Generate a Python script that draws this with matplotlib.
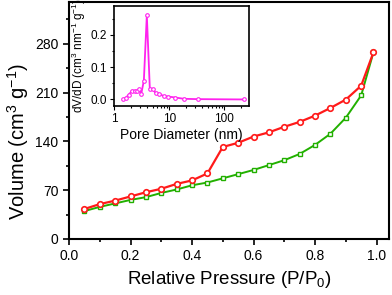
import numpy as np
import matplotlib
matplotlib.use("Agg")
import matplotlib.pyplot as plt
from matplotlib.ticker import MultipleLocator, LogLocator, NullFormatter

plt.rcParams['font.family'] = ['Liberation Sans', 'DejaVu Sans']
plt.rcParams['mathtext.fontset'] = 'custom'
plt.rcParams['mathtext.rm'] = 'Liberation Sans'
plt.rcParams['mathtext.it'] = 'Liberation Sans'

#######################################
# isotherm data
p_rel = [0.05, 0.10, 0.15, 0.20, 0.25, 0.30, 0.35, 0.40, 0.45, 0.50,
         0.55, 0.60, 0.65, 0.70, 0.75, 0.80, 0.85, 0.90, 0.95, 0.99]
v_desorb = [43, 50, 55, 61, 67, 72, 79, 84, 94, 132,
            138, 147, 153, 161, 168, 177, 188, 200, 220, 268]
v_adsorb = [40, 46, 51, 56, 60, 66, 71, 77, 81, 87,
            93, 99, 106, 113, 122, 135, 151, 174, 206, 268]

# pore size distribution (inset)
pore_d = [1.44, 1.63, 1.85, 2.12, 2.38, 2.58, 2.85, 3.1, 3.47, 3.93,
          4.46, 5.05, 5.73, 6.67, 7.9, 9.7, 12.9, 18.5, 32.7, 224]
dvdd = [0.0, 0.005, 0.015, 0.027, 0.027, 0.025, 0.031, 0.016, 0.058, 0.261,
        0.031, 0.031, 0.019, 0.018, 0.010, 0.009, 0.006, 0.002, 0.001, 0.0]

red = '#ff1a1a'
green = '#22b000'
magenta = '#ff22ee'

#######################################

fig = plt.figure(figsize=(3.92, 2.95), dpi=100)
ax = fig.add_axes([0.176, 0.19, 0.816, 0.803])

ax.plot(p_rel, v_adsorb, '-s', color=green, lw=1.4, ms=3.5, mfc='white', mew=1.0)
ax.plot(p_rel, v_desorb, '-o', color=red, lw=1.6, ms=4, mfc='white', mew=1.2)

ax.set_xlim(0, 1.04)
ax.set_ylim(0, 340)
ax.xaxis.set_major_locator(MultipleLocator(0.2))
ax.xaxis.set_minor_locator(MultipleLocator(0.1))
ax.yaxis.set_major_locator(MultipleLocator(70))
ax.yaxis.set_minor_locator(MultipleLocator(35))
ax.xaxis.set_major_formatter(plt.FuncFormatter(lambda v, p: '%.1f' % v))
ax.tick_params(which='both', direction='out', labelsize=10, width=1.2, top=False, right=False)
ax.tick_params(which='major', length=4)
ax.tick_params(which='minor', length=2.5)
for s in ax.spines.values():
    s.set_linewidth(1.5)
ax.set_xlabel('Relative Pressure (P/P$_0$)', fontsize=13.5, labelpad=4)
ax.set_ylabel('Volume (cm$^3$ g$^{-1}$)', fontsize=14.5)
ax.yaxis.set_label_coords(-0.12, 0.41)

# inset
axi = fig.add_axes([0.291, 0.641, 0.344, 0.339])
axi.plot(pore_d, dvdd, '-o', color=magenta, lw=1.3, ms=2.6, mfc='white', mew=0.8)
axi.set_xscale('log')
axi.set_xlim(1, 280)
axi.set_ylim(-0.02, 0.29)
axi.yaxis.set_major_locator(MultipleLocator(0.1))
axi.yaxis.set_minor_locator(MultipleLocator(0.05))
axi.yaxis.set_major_formatter(plt.FuncFormatter(lambda v, p: '%.1f' % v))
axi.xaxis.set_major_locator(LogLocator(base=10))
axi.xaxis.set_minor_locator(LogLocator(base=10, subs=np.arange(2, 10)))
axi.xaxis.set_minor_formatter(NullFormatter())
axi.xaxis.set_major_formatter(plt.FuncFormatter(lambda v, p: '%d' % v))
axi.tick_params(which='both', direction='out', labelsize=8.5, width=0.8, top=False, right=False, pad=2)
axi.tick_params(which='major', length=3)
axi.tick_params(which='minor', length=1.5)
for s in axi.spines.values():
    s.set_linewidth(1.2)
axi.set_xlabel('Pore Diameter (nm)', fontsize=10, labelpad=2)
axi.set_ylabel('dV/dD (cm$^3$ nm$^{-1}$ g$^{-1}$)', fontsize=8.5, labelpad=2)

fig.savefig('out.png', dpi=100)
